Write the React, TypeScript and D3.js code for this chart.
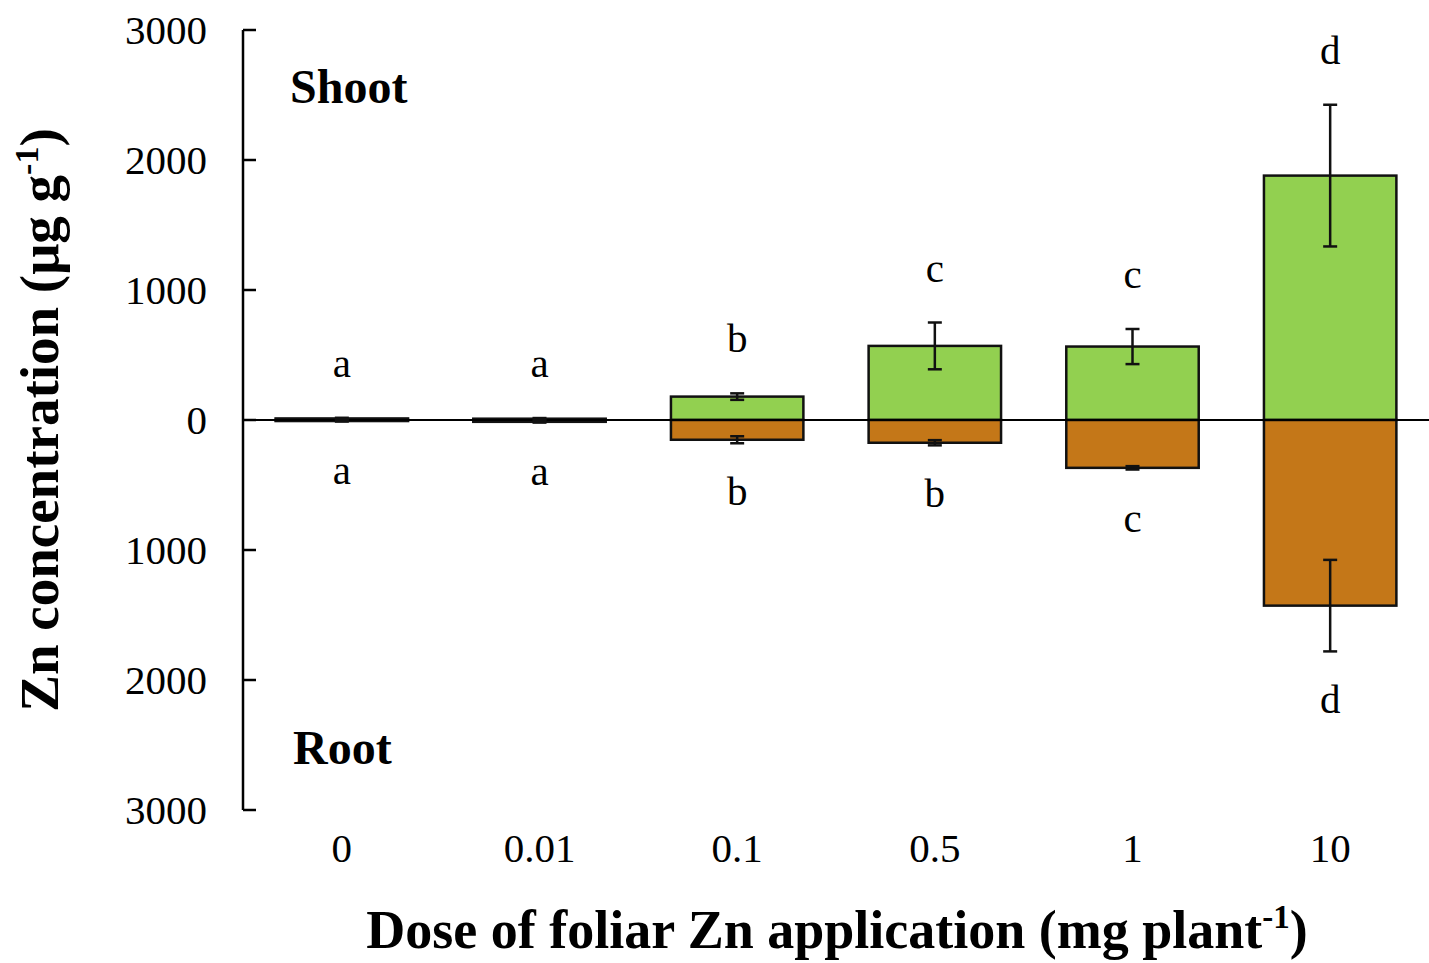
import React from "react";
import { scaleBand, scaleLinear } from "d3";

// doses (mg plant-1)
const doses = ["0", "0.01", "0.1", "0.5", "1", "10"];
// shoot Zn (µg g-1), mean and error
const shootMean = [12, 10, 180, 570, 565, 1880];
const shootErr = [5, 5, 25, 180, 135, 545];
const shootLetters = ["a", "a", "b", "c", "c", "d"];
// root Zn (µg g-1), mean and error
const rootMean = [8, 14, 152, 175, 368, 1428];
const rootErr = [4, 6, 27, 20, 13, 352];
const rootLetters = ["a", "a", "b", "b", "c", "d"];
const yTicks = [-3000, -2000, -1000, 0, 1000, 2000, 3000];

const W = 1429;
const H = 963;
const FONT = "'Liberation Serif', 'Times New Roman', serif";

function App() {
  const x = scaleBand()
    .domain(doses)
    .range([243, 1429])
    .paddingInner(0.33)
    .paddingOuter(0.165);
  const y = scaleLinear().domain([-3000, 3000]).range([810, 30]);
  const bw = x.bandwidth();
  const cap = 7;

  return (
    <svg
      width={W}
      height={H}
      style={{ position: "absolute", left: 0, top: 0, background: "#fff" }}
      fontFamily={FONT}
    >
      {/* bars */}
      {doses.map((d, i) => (
        <g key={d}>
          <rect
            x={x(d)}
            y={y(shootMean[i])}
            width={bw}
            height={y(0) - y(shootMean[i])}
            fill="#92D050"
            stroke="#111"
            strokeWidth={2.5}
          />
          <rect
            x={x(d)}
            y={y(0)}
            width={bw}
            height={y(-rootMean[i]) - y(0)}
            fill="#C47718"
            stroke="#111"
            strokeWidth={2.5}
          />
        </g>
      ))}

      {/* zero line */}
      <line x1={243} x2={W} y1={y(0)} y2={y(0)} stroke="#000" strokeWidth={2} />

      {/* error bars */}
      {doses.map((d, i) => {
        const cx = (x(d) as number) + bw / 2;
        const s0 = y(shootMean[i] + shootErr[i]);
        const s1 = y(shootMean[i] - shootErr[i]);
        const r0 = y(-rootMean[i] + rootErr[i]);
        const r1 = y(-rootMean[i] - rootErr[i]);
        return (
          <g key={"e" + d} stroke="#111" strokeWidth={2.5}>
            <line x1={cx} x2={cx} y1={s0} y2={s1} />
            <line x1={cx - cap} x2={cx + cap} y1={s0} y2={s0} />
            <line x1={cx - cap} x2={cx + cap} y1={s1} y2={s1} />
            <line x1={cx} x2={cx} y1={r0} y2={r1} />
            <line x1={cx - cap} x2={cx + cap} y1={r0} y2={r0} />
            <line x1={cx - cap} x2={cx + cap} y1={r1} y2={r1} />
          </g>
        );
      })}

      {/* significance letters */}
      {doses.map((d, i) => {
        const cx = (x(d) as number) + bw / 2;
        return (
          <g key={"l" + d} fontSize={41} textAnchor="middle" fill="#000">
            <text x={cx} y={y(shootMean[i] + shootErr[i]) - 41}>
              {shootLetters[i]}
            </text>
            <text x={cx} y={y(-rootMean[i] - rootErr[i]) + 62}>
              {rootLetters[i]}
            </text>
          </g>
        );
      })}

      {/* y axis */}
      <line x1={243} x2={243} y1={y(3000)} y2={y(-3000)} stroke="#000" strokeWidth={2.5} />
      {yTicks.map((t) => (
        <g key={"t" + t}>
          <line x1={243} x2={256} y1={y(t)} y2={y(t)} stroke="#000" strokeWidth={2.5} />
          <text
            x={207}
            y={y(t)}
            dy="0.33em"
            textAnchor="end"
            fontSize={41}
            fill="#000"
          >
            {Math.abs(t)}
          </text>
        </g>
      ))}

      {/* x tick labels */}
      {doses.map((d) => (
        <text
          key={"x" + d}
          x={(x(d) as number) + bw / 2}
          y={862}
          textAnchor="middle"
          fontSize={41}
          fill="#000"
        >
          {d}
        </text>
      ))}

      {/* panel labels */}
      <text x={290} y={103} fontSize={48} fontWeight="bold">
        Shoot
      </text>
      <text x={293} y={764} fontSize={48} fontWeight="bold">
        Root
      </text>

      {/* axis titles */}
      <text
        x={837}
        y={948}
        textAnchor="middle"
        fontSize={54}
        fontWeight="bold"
      >
        Dose of foliar Zn application (mg plant
        <tspan fontSize={33} dy={-20}>-1</tspan>
        <tspan dy={20}>)</tspan>
      </text>
      <text
        transform="translate(58,420) rotate(-90)"
        textAnchor="middle"
        fontSize={55}
        fontWeight="bold"
      >
        Zn concentration (μg g
        <tspan fontSize={34} dy={-20}>-1</tspan>
        <tspan dy={20}>)</tspan>
      </text>
    </svg>
  );
}

export default App;
